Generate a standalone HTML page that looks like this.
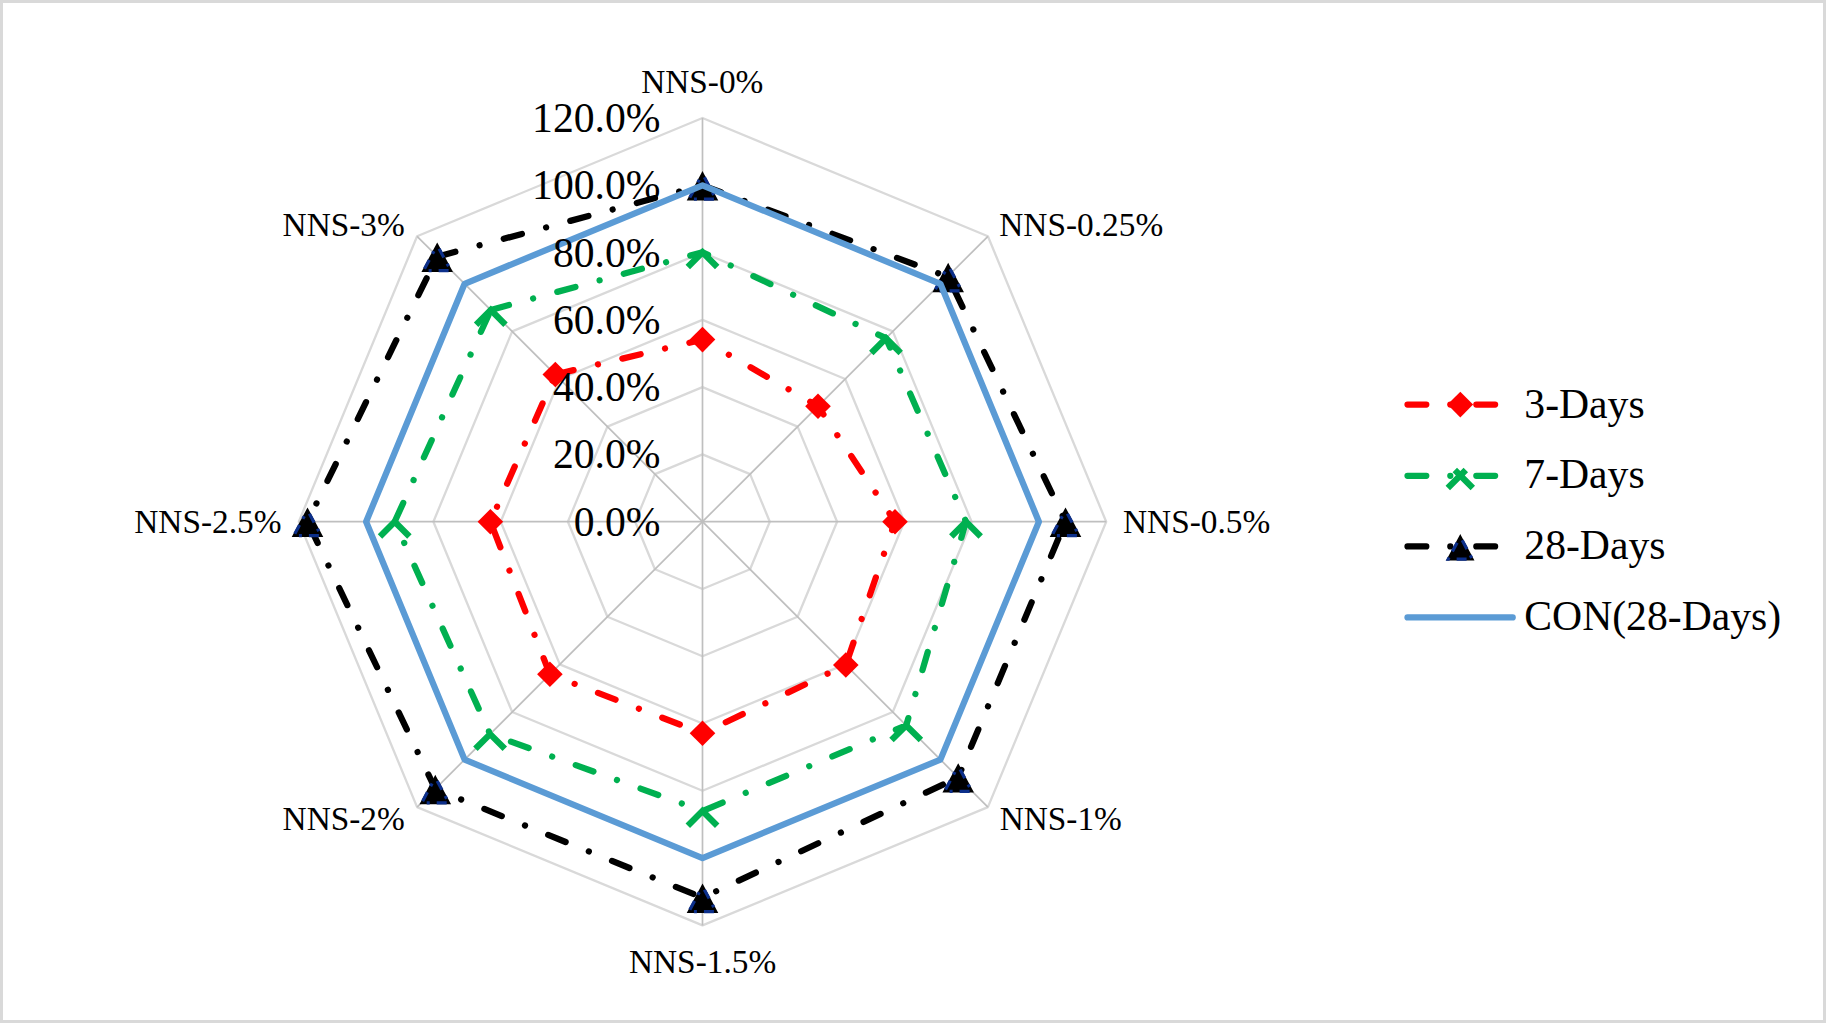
<!DOCTYPE html>
<html lang="en">
<head>
<meta charset="utf-8">
<title>Radar chart</title>
<style>html,body{margin:0;padding:0;background:#fff;}body{width:1826px;height:1023px;overflow:hidden;}svg{display:block;}</style>
</head>
<body>
<svg width="1826" height="1023" viewBox="0 0 1826 1023">
<rect x="0" y="0" width="1826" height="1023" fill="#ffffff"/>
<rect x="1.5" y="1.5" width="1823" height="1020" fill="none" stroke="#d9d9d9" stroke-width="3"/>
<g fill="none" stroke="#d9d9d9" stroke-width="2.3" stroke-linejoin="round">
<path d="M702.5 454.4 L750.1 474.1 L769.8 521.7 L750.1 569.3 L702.5 589.0 L654.9 569.3 L635.2 521.7 L654.9 474.1 Z"/>
<path d="M702.5 387.1 L797.6 426.6 L837.1 521.7 L797.6 616.8 L702.5 656.3 L607.4 616.8 L567.9 521.7 L607.4 426.6 Z"/>
<path d="M702.5 319.9 L845.2 379.0 L904.3 521.7 L845.2 664.4 L702.5 723.5 L559.8 664.4 L500.7 521.7 L559.8 379.0 Z"/>
<path d="M702.5 252.6 L892.8 331.4 L971.6 521.7 L892.8 712.0 L702.5 790.8 L512.2 712.0 L433.4 521.7 L512.2 331.4 Z"/>
<path d="M702.5 185.3 L940.4 283.8 L1038.9 521.7 L940.4 759.6 L702.5 858.1 L464.6 759.6 L366.1 521.7 L464.6 283.8 Z"/>
<path d="M702.5 118.0 L987.9 236.3 L1106.2 521.7 L987.9 807.1 L702.5 925.4 L417.1 807.1 L298.8 521.7 L417.1 236.3 Z"/>
</g>
<g fill="none" stroke="#bfbfbf" stroke-width="1.7">
<path d="M702.5 521.7 L702.5 118.0"/>
<path d="M702.5 521.7 L987.9 236.3"/>
<path d="M702.5 521.7 L1106.2 521.7"/>
<path d="M702.5 521.7 L987.9 807.1"/>
<path d="M702.5 521.7 L702.5 925.4"/>
<path d="M702.5 521.7 L417.1 807.1"/>
<path d="M702.5 521.7 L298.8 521.7"/>
<path d="M702.5 521.7 L417.1 236.3"/>
</g>
<path d="M555.3 374.5 L702.5 339.6 L818.0 406.2 L895.0 521.7 L845.8 665.0 L702.5 733.3 L549.9 674.3 L490.4 521.7 Z" fill="none" stroke="#ff0000" stroke-width="6.25" stroke-linecap="round" stroke-linejoin="round" stroke-dasharray="18.8 25.05 0.01 25.05"/>
<path d="M702.5 326.8 L715.3 339.6 L702.5 352.4 L689.7 339.6 Z" fill="#ff0000"/>
<path d="M818.0 393.4 L830.8 406.2 L818.0 419.0 L805.2 406.2 Z" fill="#ff0000"/>
<path d="M895.0 508.9 L907.8 521.7 L895.0 534.5 L882.2 521.7 Z" fill="#ff0000"/>
<path d="M845.8 652.2 L858.6 665.0 L845.8 677.8 L833.0 665.0 Z" fill="#ff0000"/>
<path d="M702.5 720.5 L715.3 733.3 L702.5 746.1 L689.7 733.3 Z" fill="#ff0000"/>
<path d="M549.9 661.5 L562.7 674.3 L549.9 687.1 L537.1 674.3 Z" fill="#ff0000"/>
<path d="M490.4 508.9 L503.2 521.7 L490.4 534.5 L477.6 521.7 Z" fill="#ff0000"/>
<path d="M555.3 361.7 L568.1 374.5 L555.3 387.3 L542.5 374.5 Z" fill="#ff0000"/>
<path d="M490.8 310.0 L702.5 252.3 L886.0 338.2 L966.0 521.7 L906.2 725.4 L702.5 811.0 L490.1 734.1 L394.7 521.7 Z" fill="none" stroke="#00b050" stroke-width="6.25" stroke-linecap="round" stroke-linejoin="round" stroke-dasharray="18.8 25.05 0.01 25.05"/>
<path d="M687.8 267.0 L702.5 252.3 L717.2 267.0" fill="none" stroke="#00b050" stroke-width="6.3" stroke-linecap="butt" stroke-linejoin="miter"/>
<path d="M871.3 352.9 L886.0 338.2 L900.7 352.9" fill="none" stroke="#00b050" stroke-width="6.3" stroke-linecap="butt" stroke-linejoin="miter"/>
<path d="M951.3 536.4 L966.0 521.7 L980.7 536.4" fill="none" stroke="#00b050" stroke-width="6.3" stroke-linecap="butt" stroke-linejoin="miter"/>
<path d="M891.5 740.1 L906.2 725.4 L920.9 740.1" fill="none" stroke="#00b050" stroke-width="6.3" stroke-linecap="butt" stroke-linejoin="miter"/>
<path d="M687.8 825.7 L702.5 811.0 L717.2 825.7" fill="none" stroke="#00b050" stroke-width="6.3" stroke-linecap="butt" stroke-linejoin="miter"/>
<path d="M475.4 748.8 L490.1 734.1 L504.8 748.8" fill="none" stroke="#00b050" stroke-width="6.3" stroke-linecap="butt" stroke-linejoin="miter"/>
<path d="M380.0 536.4 L394.7 521.7 L409.4 536.4" fill="none" stroke="#00b050" stroke-width="6.3" stroke-linecap="butt" stroke-linejoin="miter"/>
<path d="M476.1 324.7 L490.8 310.0 L505.5 324.7" fill="none" stroke="#00b050" stroke-width="6.3" stroke-linecap="butt" stroke-linejoin="miter"/>
<path d="M437.2 256.7 L702.5 185.3 L948.2 277.0 L1065.5 521.7 L958.2 777.4 L702.5 897.7 L435.3 789.0 L307.5 521.7 Z" fill="none" stroke="#000000" stroke-width="6.25" stroke-linecap="round" stroke-linejoin="round" stroke-dasharray="18.8 25.05 0.01 25.05"/>
<path d="M702.5 173.8 L716.1 199.2 L688.9 199.2 Z" fill="#000000" stroke="#000000" stroke-width="2.6" stroke-linejoin="miter"/><path d="M702.5 173.8 L716.1 199.2 L688.9 199.2 Z" fill="none" stroke="#0c2f8a" stroke-width="3.2" stroke-linejoin="miter" stroke-linecap="butt" stroke-dasharray="10 7 3 7" stroke-dashoffset="-4"/>
<path d="M948.2 265.5 L961.8 290.9 L934.6 290.9 Z" fill="#000000" stroke="#000000" stroke-width="2.6" stroke-linejoin="miter"/><path d="M948.2 265.5 L961.8 290.9 L934.6 290.9 Z" fill="none" stroke="#0c2f8a" stroke-width="3.2" stroke-linejoin="miter" stroke-linecap="butt" stroke-dasharray="10 7 3 7" stroke-dashoffset="-4"/>
<path d="M1065.5 510.2 L1079.1 535.6 L1051.9 535.6 Z" fill="#000000" stroke="#000000" stroke-width="2.6" stroke-linejoin="miter"/><path d="M1065.5 510.2 L1079.1 535.6 L1051.9 535.6 Z" fill="none" stroke="#0c2f8a" stroke-width="3.2" stroke-linejoin="miter" stroke-linecap="butt" stroke-dasharray="10 7 3 7" stroke-dashoffset="-4"/>
<path d="M958.2 765.9 L971.8 791.3 L944.6 791.3 Z" fill="#000000" stroke="#000000" stroke-width="2.6" stroke-linejoin="miter"/><path d="M958.2 765.9 L971.8 791.3 L944.6 791.3 Z" fill="none" stroke="#0c2f8a" stroke-width="3.2" stroke-linejoin="miter" stroke-linecap="butt" stroke-dasharray="10 7 3 7" stroke-dashoffset="-4"/>
<path d="M702.5 886.2 L716.1 911.6 L688.9 911.6 Z" fill="#000000" stroke="#000000" stroke-width="2.6" stroke-linejoin="miter"/><path d="M702.5 886.2 L716.1 911.6 L688.9 911.6 Z" fill="none" stroke="#0c2f8a" stroke-width="3.2" stroke-linejoin="miter" stroke-linecap="butt" stroke-dasharray="10 7 3 7" stroke-dashoffset="-4"/>
<path d="M435.3 777.5 L448.9 802.9 L421.7 802.9 Z" fill="#000000" stroke="#000000" stroke-width="2.6" stroke-linejoin="miter"/><path d="M435.3 777.5 L448.9 802.9 L421.7 802.9 Z" fill="none" stroke="#0c2f8a" stroke-width="3.2" stroke-linejoin="miter" stroke-linecap="butt" stroke-dasharray="10 7 3 7" stroke-dashoffset="-4"/>
<path d="M307.5 510.2 L321.1 535.6 L293.9 535.6 Z" fill="#000000" stroke="#000000" stroke-width="2.6" stroke-linejoin="miter"/><path d="M307.5 510.2 L321.1 535.6 L293.9 535.6 Z" fill="none" stroke="#0c2f8a" stroke-width="3.2" stroke-linejoin="miter" stroke-linecap="butt" stroke-dasharray="10 7 3 7" stroke-dashoffset="-4"/>
<path d="M437.2 245.2 L450.8 270.6 L423.6 270.6 Z" fill="#000000" stroke="#000000" stroke-width="2.6" stroke-linejoin="miter"/><path d="M437.2 245.2 L450.8 270.6 L423.6 270.6 Z" fill="none" stroke="#0c2f8a" stroke-width="3.2" stroke-linejoin="miter" stroke-linecap="butt" stroke-dasharray="10 7 3 7" stroke-dashoffset="-4"/>
<path d="M702.5 185.3 L940.4 283.8 L1038.9 521.7 L940.4 759.6 L702.5 858.1 L464.6 759.6 L366.1 521.7 L464.6 283.8 Z" fill="none" stroke="#5b9bd5" stroke-width="6.25" stroke-linejoin="round"/>
<g font-family="'Liberation Serif', 'Times New Roman', serif" font-size="41.67" fill="#000000" text-anchor="end">
<text x="660.5" y="535.6">0.0%</text>
<text x="660.5" y="468.3">20.0%</text>
<text x="660.5" y="401.0">40.0%</text>
<text x="660.5" y="333.8">60.0%</text>
<text x="660.5" y="266.5">80.0%</text>
<text x="660.5" y="199.2">100.0%</text>
<text x="660.5" y="131.9">120.0%</text>
</g>
<g font-family="'Liberation Serif', 'Times New Roman', serif" font-size="33.33" fill="#000000">
<text x="702.3" y="93.2" text-anchor="middle">NNS-0%</text>
<text x="999.3" y="235.6">NNS-0.25%</text>
<text x="1123" y="532.5">NNS-0.5%</text>
<text x="999.7" y="830">NNS-1%</text>
<text x="702.6" y="972.6" text-anchor="middle">NNS-1.5%</text>
<text x="404.8" y="830" text-anchor="end">NNS-2%</text>
<text x="281.5" y="532.8" text-anchor="end">NNS-2.5%</text>
<text x="404.8" y="235.8" text-anchor="end">NNS-3%</text>
</g>
<path d="M1407.5 404.6 L1512.7 404.6" fill="none" stroke="#ff0000" stroke-width="6.25" stroke-linecap="round" stroke-dasharray="18.8 24 0.01 26 18.8 300"/>
<path d="M1407.5 475.8 L1512.7 475.8" fill="none" stroke="#00b050" stroke-width="6.25" stroke-linecap="round" stroke-dasharray="18.8 24 0.01 26 18.8 300"/>
<path d="M1407.5 546.4 L1512.7 546.4" fill="none" stroke="#000000" stroke-width="6.25" stroke-linecap="round" stroke-dasharray="18.8 24 0.01 26 18.8 300"/>
<path d="M1460.3 391.8 L1473.1 404.6 L1460.3 417.4 L1447.5 404.6 Z" fill="#ff0000"/>
<path d="M1447.8 488.0 L1460.3 475.5 L1472.8 488.0 M1460.3 475.5 L1454.8 470.0 M1460.3 475.5 L1465.8 470.0" fill="none" stroke="#00b050" stroke-width="6.3" stroke-linecap="butt" stroke-linejoin="miter"/>
<path d="M1460.3 536.8 L1472.3 559.1 L1448.3 559.1 Z" fill="#000000" stroke="#000000" stroke-width="2.6" stroke-linejoin="miter"/><path d="M1460.3 536.8 L1472.3 559.1 L1448.3 559.1 Z" fill="none" stroke="#0c2f8a" stroke-width="3.2" stroke-linejoin="miter" stroke-linecap="butt" stroke-dasharray="10 7 3 7" stroke-dashoffset="-4"/>
<path d="M1407.5 617.4 L1512.7 617.4" fill="none" stroke="#5b9bd5" stroke-width="6.25" stroke-linecap="round"/>
<g font-family="'Liberation Serif', 'Times New Roman', serif" font-size="41.67" fill="#000000">
<text x="1524.3" y="417.8">3-Days</text>
<text x="1524.3" y="488.4">7-Days</text>
<text x="1524.3" y="559.4">28-Days</text>
<text x="1524.3" y="629.9">CON(28-Days)</text>
</g>
</svg>
</body>
</html>
